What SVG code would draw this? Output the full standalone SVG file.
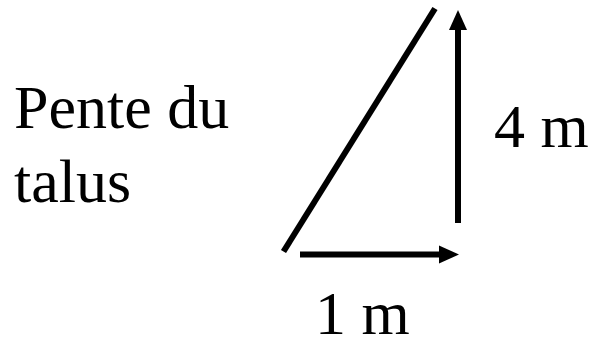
<svg xmlns="http://www.w3.org/2000/svg" width="594" height="337" viewBox="0 0 594 337">
<style>
.t{font-family:"Liberation Serif","Times New Roman",serif;font-size:62px;fill:#000}
.l{stroke:#000;stroke-width:6;fill:none}
</style>
<defs>
<marker id="ah" markerUnits="userSpaceOnUse" markerWidth="20" markerHeight="20" viewBox="0 0 20 20" refX="0" refY="10" orient="auto">
<path d="M0,1 L20,10 L0,19 Z" fill="#000"/>
</marker>
</defs>
<rect width="594" height="337" fill="#fff"/>
<g id="slope">
<line class="l" x1="283.5" y1="251.5" x2="435" y2="8.5"/>
</g>
<g id="connectors">
<line class="l" x1="458" y1="223" x2="458" y2="30" marker-end="url(#ah)"/>
<line class="l" x1="300" y1="254.5" x2="439" y2="254.5" marker-end="url(#ah)"/>
</g>
<g id="label-pente">
<text class="t" x="14" y="128">Pente du</text>
<text class="t" x="14" y="202">talus</text>
</g>
<g id="label-4m"><text class="t" x="494" y="147">4 m</text></g>
<g id="label-1m"><text class="t" x="315" y="334">1 m</text></g>
</svg>
